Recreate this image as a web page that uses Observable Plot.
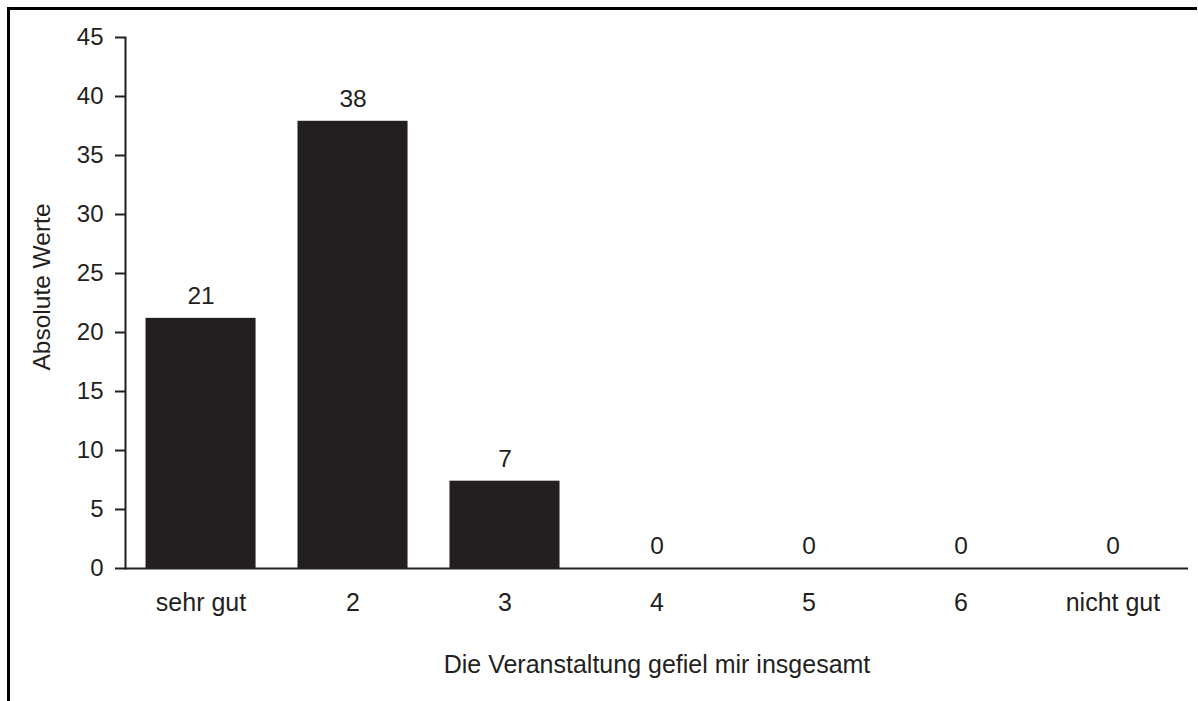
<!DOCTYPE html>
<html>
<head>
<meta charset="utf-8">
<script src="https://cdn.jsdelivr.net/npm/d3@7"></script>
<script src="https://cdn.jsdelivr.net/npm/@observablehq/plot@0.6"></script>
<style>
  html, body { margin: 0; padding: 0; background: #fff; }
  #wrap { position: relative; width: 1198px; height: 701px; overflow: hidden; }
  #wrap svg { position: absolute; left: 0; top: 0; }
  .frameTop { position: absolute; left: 7px; top: 7px; width: 1190px; height: 2.5px; background: #000; }
  .frameLeft { position: absolute; left: 7px; top: 7px; width: 2.5px; height: 700px; background: #000; }
</style>
</head>
<body>
<div id="wrap">
  <div class="frameTop"></div>
  <div class="frameLeft"></div>
</div>
<script>
const categories = ["sehr gut", "2", "3", "4", "5", "6", "nicht gut"];
const values = [21.2, 37.9, 7.4, 0, 0, 0, 0];
const valueLabels = ["21", "38", "7", "0", "0", "0", "0"];
const yTicks = [0, 5, 10, 15, 20, 25, 30, 35, 40, 45];
const xTitle = "Die Veranstaltung gefiel mir insgesamt";
const yTitle = "Absolute Werte";

const data = categories.map((c, i) => ({cat: c, value: values[i], label: valueLabels[i]}));
const ink = "#231f20";

const chart = Plot.plot({
  width: 1198,
  height: 701,
  marginLeft: 125,
  marginRight: 10,
  marginTop: 37,
  marginBottom: 133,
  style: {fontFamily: "'Liberation Sans', Arial, Helvetica, sans-serif", fontSize: "24.5px", color: ink, background: "transparent"},
  x: {type: "band", domain: categories, paddingInner: 0.276, paddingOuter: 0.135, round: false},
  y: {domain: [0, 45]},
  marks: [
    Plot.barY(data, {x: "cat", y: "value", fill: ink}),
    Plot.ruleY([0], {stroke: ink, strokeWidth: 2}),
    Plot.frame({anchor: "left", stroke: ink, strokeWidth: 2}),
    Plot.text(data, {x: "cat", y: "value", text: "label", dy: -22, fill: ink, fontSize: 24.5}),
    Plot.axisY({ticks: yTicks, tickSize: 10, tickPadding: 12, strokeWidth: 2, stroke: ink,
      label: null, fontSize: 24}),
    Plot.text([yTitle], {frameAnchor: "left", textAnchor: "middle", rotate: -90, dx: -83, dy: -16, fill: ink, fontSize: 24.5}),
    Plot.axisX({tickSize: 0, tickPadding: 25, label: xTitle, labelArrow: false, labelAnchor: "center", labelOffset: 104, fontSize: 25})
  ]
});
document.getElementById("wrap").appendChild(chart);
</script>
</body>
</html>
